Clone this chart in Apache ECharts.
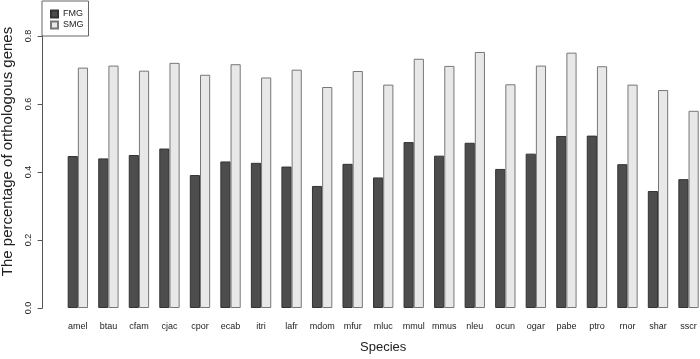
<!DOCTYPE html>
<html>
<head>
<meta charset="utf-8">
<script src="https://cdn.jsdelivr.net/npm/echarts@6/dist/echarts.min.js"></script>
<style>
html,body{margin:0;padding:0;background:#fff;}
#c{width:700px;height:359px;}
</style>
</head>
<body>
<div id="c"></div>
<script>
var species = ["amel","btau","cfam","cjac","cpor","ecab","itri","lafr","mdom","mfur","mluc","mmul","mmus","nleu","ocun","ogar","pabe","ptro","rnor","shar","sscr"];
var fmg = [0.447,0.440,0.450,0.469,0.391,0.431,0.427,0.416,0.359,0.424,0.384,0.488,0.448,0.486,0.409,0.454,0.506,0.507,0.423,0.344,0.379];
var smg = [0.707,0.713,0.698,0.721,0.686,0.717,0.678,0.701,0.650,0.697,0.657,0.733,0.712,0.753,0.658,0.713,0.751,0.711,0.657,0.641,0.580];
var yTicks = [0.0,0.2,0.4,0.6,0.8];

var chart = echarts.init(document.getElementById('c'), null, {renderer:'canvas'});
var font = 'Liberation Sans, Arial, Helvetica, sans-serif';
chart.setOption({
  animation:false,
  backgroundColor:'#ffffff',
  textStyle:{fontFamily:font},
  legend:{
    orient:'vertical', left:42, top:1,
    padding:[8,5,6,8], itemGap:1,
    itemWidth:7, itemHeight:7, icon:'rect',
    borderColor:'#666', borderWidth:1,
    textStyle:{fontFamily:font, fontSize:9, color:'#222', lineHeight:10},
    data:['FMG','SMG']
  },
  grid:{left:62.6, right:-3.8, top:36, bottom:51, containLabel:false, outerBoundsMode:'none'},
  xAxis:{
    type:'category', data:species, boundaryGap:true,
    axisLine:{show:false}, axisTick:{show:false},
    axisLabel:{fontFamily:font, fontSize:9, color:'#222', margin:14, interval:0},
    name:'Species', nameLocation:'middle', nameGap:33,
    nameTextStyle:{fontFamily:font, fontSize:13, color:'#222'}
  },
  yAxis:{
    type:'value', min:0, max:0.8, interval:0.2, offset:20,
    axisLine:{show:true, lineStyle:{color:'#555', width:1}},
    axisTick:{show:true, length:5, lineStyle:{color:'#555'}},
    splitLine:{show:false},
    axisLabel:{fontFamily:font, fontSize:9, color:'#222', rotate:90, margin:10,
      formatter:function(v){return v.toFixed(1);}},
    name:'The percentage of orthologous genes', nameLocation:'middle', nameGap:23,
    nameTextStyle:{fontFamily:font, fontSize:15, color:'#222', padding:[0,0,0,41]}
  },
  series:[
    {name:'FMG', type:'bar', data:fmg, barWidth:10.18, barGap:'0%',
     itemStyle:{color:'#4d4d4d', borderColor:'#333', borderWidth:1}},
    {name:'SMG', type:'bar', data:smg, barWidth:10.18, barGap:'0%',
     itemStyle:{color:'#e8e8e8', borderColor:'#777', borderWidth:1}}
  ]
});
</script>
</body>
</html>
